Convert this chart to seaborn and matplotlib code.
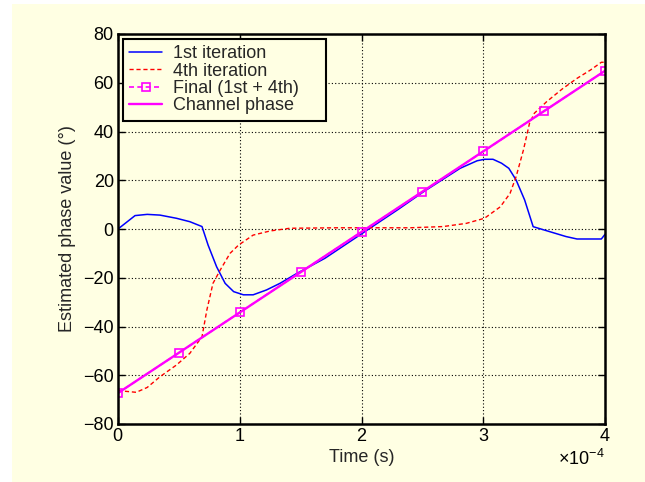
import numpy as np
import pandas as pd
import matplotlib
matplotlib.use("Agg")
import matplotlib.pyplot as plt
from matplotlib.patches import Rectangle
from matplotlib.ticker import ScalarFormatter
import seaborn as sns

# 1st iteration estimate (time in units of 1e-4 s, phase in degrees)
t_first = [0, 0.14, 0.24, 0.345, 0.48, 0.59, 0.69, 0.74, 0.81, 0.88, 0.95, 1.03,
           1.11, 1.22, 1.33, 1.47, 1.7, 2.0, 2.3, 2.51, 2.81, 2.95, 3.01, 3.08,
           3.15, 3.21, 3.27, 3.34, 3.41, 3.52, 3.68, 3.77, 3.97, 4.0]
phase_first = [0, 5.5, 6, 5.7, 4.4, 3, 1, -6.6, -15.5, -22.3, -25.7, -27,
               -27, -25, -22.3, -18.2, -12, -2, 8, 15.3, 24.9, 28, 28.6, 28.6,
               27, 24.9, 20.1, 11.9, 0.95, -0.7, -3.1, -4.1, -4.1, -2.2]

# 4th iteration estimate
t_fourth = [0, 0.15, 0.24, 0.345, 0.48, 0.59, 0.69, 0.73, 0.78, 0.84, 0.92, 0.99,
            1.11, 1.25, 1.41, 1.8, 2.4, 2.67, 2.86, 3.01, 3.14, 3.22, 3.27, 3.33,
            3.38, 3.42, 3.52, 3.65, 3.77, 3.88, 3.97, 4.0]
phase_fourth = [-66.3, -67.0, -65, -60.6, -55.8, -51, -44.2, -33.2, -22.3, -16.8,
                -10, -6.6, -2.5, -0.8, 0.3, 0.5, 0.5, 1, 2.3, 4.4, 9.1, 14.6,
                21.5, 32.4, 43.4, 47.5, 52.2, 57.5, 61.8, 65.2, 68.4, 68.4]

# Final estimate (1st + 4th)
t_final = [0, 0.5, 1.0, 1.5, 2.0, 2.5, 3.0, 3.5, 4.0]
phase_final = [-67.3, -50.8, -34.2, -17.7, -1.2, 15.3, 31.8, 48.4, 64.9]

# True channel phase
t_channel = [0, 4.0]
phase_channel = [-67.3, 64.9]

SCALE = 1e-4
cream = "#FFFFE3"
FS = 13

df_first = pd.DataFrame({"t": np.array(t_first) * SCALE, "phase": phase_first})
df_fourth = pd.DataFrame({"t": np.array(t_fourth) * SCALE, "phase": phase_fourth})
df_final = pd.DataFrame({"t": np.array(t_final) * SCALE, "phase": phase_final})
df_channel = pd.DataFrame({"t": np.array(t_channel) * SCALE, "phase": phase_channel})

sns.set_style("ticks")
plt.rcParams["font.family"] = ["Liberation Sans", "DejaVu Sans"]
plt.rcParams["mathtext.fontset"] = "custom"
plt.rcParams["mathtext.rm"] = "Liberation Sans"

fig = plt.figure(figsize=(6.45, 4.82), dpi=100, facecolor="white")
fig.add_artist(Rectangle((12 / 645, 0), 1 - 12 / 645, 1 - 4 / 482,
                         transform=fig.transFigure, facecolor=cream,
                         edgecolor="none", zorder=-10))
ax = fig.add_axes([118 / 645, 1 - 424 / 482, (605 - 118) / 645, (424 - 34) / 482])
ax.set_facecolor(cream)

sns.lineplot(data=df_first, x="t", y="phase", ax=ax, color="#0000FF", lw=1.1,
             label="1st iteration", sort=False)
sns.lineplot(data=df_fourth, x="t", y="phase", ax=ax, color="#FF0000", lw=1.0,
             linestyle=(0, (3, 2)), label="4th iteration", sort=False)
sns.lineplot(data=df_final, x="t", y="phase", ax=ax, color="#FF00FF", lw=1.2,
             linestyle=(0, (3, 2)), marker="s", markersize=6,
             markerfacecolor="none", markeredgecolor="#FF00FF", markeredgewidth=1.2,
             label="Final (1st + 4th)", sort=False)
sns.lineplot(data=df_channel, x="t", y="phase", ax=ax, color="#FF00FF", lw=1.7,
             label="Channel phase", sort=False)

ax.set_xlim(0, 4e-4)
ax.set_ylim(-80, 80)
ax.set_xticks(np.arange(0, 5) * SCALE)
ax.set_yticks(np.arange(-80, 81, 20))
fmt = ScalarFormatter(useMathText=True)
fmt.set_powerlimits((-3, 3))
ax.xaxis.set_major_formatter(fmt)

ax.grid(True, color="black", linestyle=(0, (1, 2)), lw=0.8)
ax.tick_params(direction="in", top=True, right=True, length=5, width=1,
               labelsize=FS, colors="black", pad=3)
offset = ax.xaxis.get_offset_text()
offset.set_fontsize(FS)
offset.set_y(-0.012)
for sp in ax.spines.values():
    sp.set_visible(True)
    sp.set_linewidth(1.8)
    sp.set_color("black")

ax.set_xlabel("Time (s)", fontsize=FS, labelpad=3)
ax.set_ylabel("Estimated phase value (°)", fontsize=FS, labelpad=5)

# Legend box spanning a fixed region in the upper-left corner
leg = ax.legend(loc="upper left", fontsize=FS, frameon=True, fancybox=False,
                bbox_to_anchor=(0.0103, 0.787, 0.417, 0.2), mode="expand",
                borderaxespad=0.0, handlelength=1.8, handletextpad=0.6,
                labelspacing=0.02, borderpad=0.35)
leg.get_frame().set_edgecolor("black")
leg.get_frame().set_linewidth(1.5)
leg.get_frame().set_facecolor(cream)
leg.get_frame().set_alpha(1)

fig.savefig("out.png", dpi=100, facecolor=fig.get_facecolor())
